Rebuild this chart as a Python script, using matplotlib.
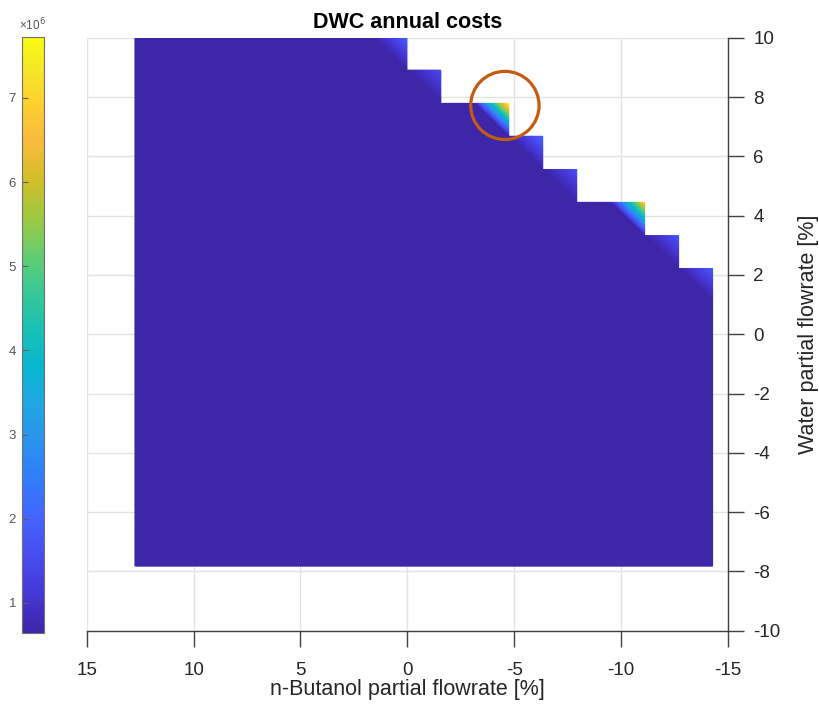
import matplotlib
matplotlib.use('Agg')  # no display
import numpy as np
import matplotlib.pyplot as plt
import matplotlib.tri as mtri
from matplotlib.colors import LinearSegmentedColormap
from matplotlib.patches import Ellipse

plt.rcParams['font.family'] = ['Liberation Sans', 'DejaVu Sans']

# --- data ---
# n-Butanol partial flowrate grid [%]
butanol = [12.74, 11.15, 9.56, 7.97, 6.38, 4.79, 3.20, 1.61, 0.02, -1.57,
           -3.16, -4.75, -6.34, -7.93, -9.52, -11.11, -12.70, -14.29]
# Water partial flowrate grid [%]
water = [-7.82, -6.71, -5.59, -4.48, -3.36, -2.25, -1.13, -0.02, 1.10,
         2.22, 3.33, 4.45, 5.56, 6.68, 7.79, 8.91, 10.02]
# last feasible butanol point (index) for every water level
last_feasible = [17, 17, 17, 17, 17, 17, 17, 17, 17, 17, 16, 15, 13, 12, 11, 9, 8]
# annual cost in the feasible region
base_cost = 0.64e6
# costs on the corners of the feasibility border
corner_col = [17, 16, 15, 13, 12, 11, 9, 8]
corner_row = [9, 10, 11, 12, 13, 14, 15, 16]
corner_cost = [1.8e6, 1.7e6, 6.9e6, 1.6e6, 2.0e6, 7.72e6, 1.5e6, 1.9e6]

cbar_ticks = [1, 2, 3, 4, 5, 6, 7]

# MATLAB parula (subsampled)
PARULA = [
    (0.2422, 0.1504, 0.6603), (0.2706, 0.2147, 0.8364), (0.2813, 0.3006, 0.9414),
    (0.2699, 0.3892, 0.9906), (0.1963, 0.4847, 0.9892), (0.1687, 0.5703, 0.9359),
    (0.1248, 0.6459, 0.8883), (0.0297, 0.7082, 0.8163), (0.0964, 0.7500, 0.7120),
    (0.2161, 0.7843, 0.5923), (0.3909, 0.8029, 0.4354), (0.6174, 0.7876, 0.2612),
    (0.8203, 0.7498, 0.1535), (0.9728, 0.7298, 0.2394), (0.9892, 0.8136, 0.1885),
    (0.9597, 0.9135, 0.1423), (0.9769, 0.9839, 0.0805),
]
pos = [k * 4 / 63 for k in range(16)] + [1.0]
parula = LinearSegmentedColormap.from_list('parula', list(zip(pos, PARULA)), N=256)

# --- cost matrix ---
cost = np.full((len(water), len(butanol)), np.nan)
for j, last in enumerate(last_feasible):
    cost[j, :last + 1] = base_cost
for i, j, c in zip(corner_col, corner_row, corner_cost):
    cost[j, i] = c

X, Y = np.meshgrid(butanol, water)
valid = ~np.isnan(cost)
idx = np.full(cost.shape, -1)
idx[valid] = np.arange(valid.sum())

# quads -> two triangles (split top-left to bottom-right like the surf shading)
tris = []
for j in range(len(water) - 1):
    for i in range(len(butanol) - 1):
        if valid[j, i] and valid[j, i + 1] and valid[j + 1, i] and valid[j + 1, i + 1]:
            tl, tr = idx[j + 1, i], idx[j + 1, i + 1]
            bl, br = idx[j, i], idx[j, i + 1]
            tris.append([tl, tr, br])
            tris.append([tl, bl, br])
tri = mtri.Triangulation(X[valid], Y[valid], np.array(tris))

# refine so colours follow the colormap (not RGB blending) inside each triangle
refiner = mtri.UniformTriRefiner(tri)
tri_fine, cost_fine = refiner.refine_field(cost[valid], subdiv=4,
                                           triinterpolator=mtri.LinearTriInterpolator(tri, cost[valid]))

# --- plot ---
fig = plt.figure(figsize=(8.19, 7.05), dpi=100)
ax = fig.add_axes([0.1059, 0.1054, 0.7827, 0.8409])

tpc = ax.tripcolor(tri_fine, cost_fine, shading='gouraud', cmap=parula,
                   vmin=np.nanmin(cost), vmax=np.nanmax(cost), zorder=2)

ax.set_xlim(15, -15)
ax.set_ylim(-10, 10)
ax.set_xticks(np.arange(15, -16, -5))
ax.set_yticks(np.arange(-10, 11, 2))
ax.xaxis.set_major_formatter(matplotlib.ticker.FuncFormatter(lambda v, p: f"{v:g}"))
ax.yaxis.set_major_formatter(matplotlib.ticker.FuncFormatter(lambda v, p: f"{v:g}"))
ax.yaxis.tick_right()
ax.yaxis.set_label_position('right')
for s in ['top', 'left']:
    ax.spines[s].set_visible(False)
for s in ['bottom', 'right']:
    ax.spines[s].set_color('#404040')
    ax.spines[s].set_linewidth(1.0)
ax.tick_params(axis='both', direction='out', length=11.5, width=1.0, color='#404040',
               labelsize=13.5, labelcolor='#262626')
ax.tick_params(axis='x', pad=11)
ax.tick_params(axis='y', pad=7)
ax.grid(True, color='#e3e3e3', linewidth=1.0, zorder=0)
ax.set_axisbelow(True)

ax.set_xlabel('n-Butanol partial flowrate [%]', fontsize=15.5, color='#262626')
ax.xaxis.set_label_coords(0.5, -0.082)
ax.set_ylabel('Water partial flowrate [%]', fontsize=15.5, color='#262626')
ax.yaxis.set_label_coords(1.11, 0.5)
ax.set_title('DWC annual costs', fontsize=15.5, fontweight='bold', pad=7)

# highlight of the cost peak
ax.add_patch(Ellipse((-4.57, 7.72), width=3.2, height=2.3, fill=False,
                     edgecolor='#c55a11', linewidth=2.3, zorder=5, clip_on=False))

# colorbar on the left
cax = fig.add_axes([0.0265, 0.1017, 0.0272, 0.8454])
cb = fig.colorbar(tpc, cax=cax)
cb.set_ticks([t * 1e6 for t in cbar_ticks])
cb.set_ticklabels([str(t) for t in cbar_ticks])
cax.yaxis.set_ticks_position('left')
cax.tick_params(direction='in', length=4, width=0.8, color='#606060',
                labelsize=9.5, labelcolor='#555555', pad=4)
cb.outline.set_edgecolor('#707070')
cb.outline.set_linewidth(0.8)
cax.text(0.5, 1.006, '\u00d710$^{6}$', transform=cax.transAxes, ha='center', va='bottom',
         fontsize=8.5, color='#555555')

fig.savefig('out.png', dpi=100)
